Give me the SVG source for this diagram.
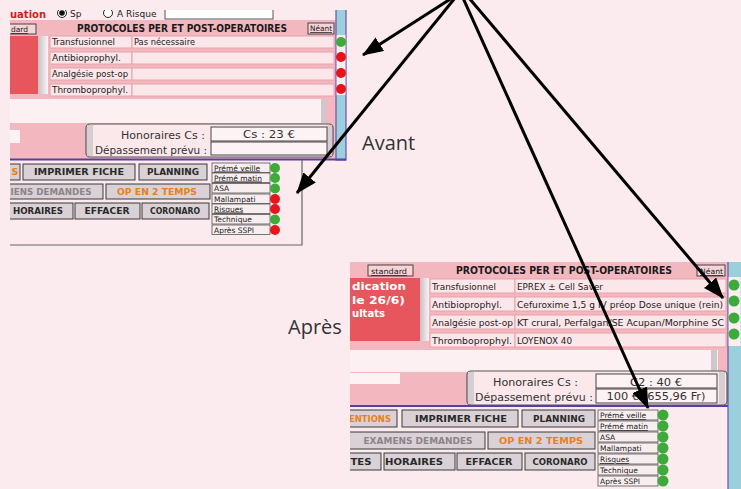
<svg xmlns="http://www.w3.org/2000/svg" width="741" height="489" viewBox="0 0 741 489">
  <defs>
    <style>
      .ui { font-family: "DejaVu Sans", "Liberation Sans", sans-serif; }
      .lbl { font-family: "DejaVu Sans", sans-serif; font-size: 8.5px; fill: #222; }
      .val { font-family: "DejaVu Sans", sans-serif; font-size: 9px; fill: #222; }
      .title { font-family: "DejaVu Sans", sans-serif; font-weight: bold; font-size: 10px; fill: #1a1a1a; }
      .btn rect { fill: #d9d1d5; stroke: #3a3a3a; stroke-width: 1; }
      .btn text { font-family: "DejaVu Sans", sans-serif; font-weight: bold; font-size: 9.5px; fill: #2a2a2a; text-anchor: middle; }
      .orange { fill: #e8801c !important; }
      .grey { fill: #8a8488 !important; }
      .panel { fill: #f3b8bf; }
      .red { fill: #e8565d; }
      .cell { fill: #fbe6e9; stroke: #eaa2aa; stroke-width: 1; }
      .field { fill: #fdf2f4; stroke: #444; stroke-width: 1; }
      .hon { font-family: "DejaVu Sans", sans-serif; font-size: 11px; fill: #333; }
      .chk rect { fill: #f8eef0; stroke: #555; stroke-width: 0.8; }
      .chk text { font-family: "DejaVu Sans", sans-serif; font-size: 7.5px; fill: #222; }
      .g { fill: #3eaa3a; }
      .r { fill: #e8141c; }
      .blue { fill: #9ccfdc; stroke: #6a52b0; stroke-width: 1.2; }
      .big { font-family: "Open Sans", "DejaVu Sans", sans-serif; font-size: 20px; fill: #333; }
      .arrow { stroke: #000; stroke-width: 3; fill: none; marker-end: url(#head); }
      .smallbtn rect { fill: #f7d4d8; stroke: #444; stroke-width: 1; }
      .smallbtn text { font-family: "DejaVu Sans", sans-serif; font-size: 7.5px; fill: #222; text-decoration: underline; }
    </style>
    <linearGradient id="scroll" x1="0" y1="0" x2="1" y2="0">
      <stop offset="0" stop-color="#c8c0c4"/>
      <stop offset="1" stop-color="#fbf4f6"/>
    </linearGradient>
    <marker id="head" markerUnits="userSpaceOnUse" markerWidth="21" markerHeight="16" refX="20" refY="8" orient="auto">
      <path d="M0,0 L21,8 L0,16 z" fill="#000"/>
    </marker>
    <clipPath id="clipA"><rect x="10" y="10" width="337" height="236"/></clipPath>
    <clipPath id="clipB"><rect x="350" y="262" width="391" height="227"/></clipPath>
  </defs>

  <rect x="0" y="0" width="741" height="489" fill="#fcebee"/>

  <!-- Screen before the change -->
  <g id="avant" clip-path="url(#clipA)">
    <text x="10" y="18" class="ui" font-size="10" font-weight="bold" fill="#d42020">uation</text>
    <circle cx="62" cy="13" r="4.5" fill="#fff" stroke="#222" stroke-width="1"/>
    <circle cx="62" cy="13" r="2.8" fill="#111"/>
    <text x="70" y="17" class="ui" font-size="9" fill="#222">Sp</text>
    <circle cx="108" cy="13" r="4.5" fill="#fff" stroke="#222" stroke-width="1"/>
    <text x="117" y="17" class="ui" font-size="9" fill="#222">A Risque</text>
    <rect x="165" y="8" width="108" height="11" fill="#fff" stroke="#555"/>

    <rect x="10" y="20" width="326" height="139" class="panel"/>
    <g class="smallbtn"><rect x="4" y="24" width="32" height="10"/><text x="11" y="32">dard</text></g>
    <text x="182" y="32" class="title" text-anchor="middle" textLength="210" lengthAdjust="spacingAndGlyphs">PROTOCOLES PER ET POST-OPERATOIRES</text>
    <g class="smallbtn"><rect x="308" y="23" width="26" height="11"/><text x="310" y="31" textLength="22" lengthAdjust="spacingAndGlyphs">Néant</text></g>

    <rect x="10" y="36" width="28" height="58" class="red"/>
    <rect x="38" y="36" width="10" height="58" fill="url(#scroll)"/>
    <rect x="50" y="36" width="82" height="12" class="cell"/><rect x="132" y="36" width="202" height="12" class="cell"/>
    <rect x="50" y="52" width="82" height="12" class="cell"/><rect x="132" y="52" width="202" height="12" class="cell"/>
    <rect x="50" y="68" width="82" height="12" class="cell"/><rect x="132" y="68" width="202" height="12" class="cell"/>
    <rect x="50" y="84" width="82" height="12" class="cell"/><rect x="132" y="84" width="202" height="12" class="cell"/>
    <text x="52" y="45" class="lbl" textLength="63" lengthAdjust="spacingAndGlyphs">Transfusionnel</text>
    <text x="134" y="45" class="lbl" textLength="61" lengthAdjust="spacingAndGlyphs">Pas nécessaire</text>
    <text x="52" y="61" class="lbl" textLength="69" lengthAdjust="spacingAndGlyphs">Antibioprophyl.</text>
    <text x="52" y="77" class="lbl" textLength="76" lengthAdjust="spacingAndGlyphs">Analgésie post-op</text>
    <text x="52" y="93" class="lbl" textLength="76" lengthAdjust="spacingAndGlyphs">Thromboprophyl.</text>

    <rect x="336" y="8" width="10" height="152" class="blue"/>
    <rect x="336.6" y="35" width="8.8" height="60" fill="#fbeef0"/>
    <circle cx="341" cy="42" r="5" class="g"/>
    <circle cx="341" cy="57" r="5" class="r"/>
    <circle cx="341" cy="73" r="5" class="r"/>
    <circle cx="341" cy="89" r="5" class="r"/>

    <rect x="10" y="99" width="316" height="24" fill="#fdf0f2"/>
    <rect x="321" y="99" width="5" height="24" fill="#cfc8cb"/>
    <rect x="10" y="130" width="10" height="13" fill="#fdf3f5"/>

    <rect x="86" y="124" width="247" height="33" rx="4" fill="#fbe8eb" stroke="#555" stroke-width="1.2"/>
    <rect x="87" y="125" width="6" height="31" fill="#d6ced2"/>
    <rect x="327" y="125" width="5" height="31" fill="#d6ced2"/>
    <text x="205" y="139" class="hon" text-anchor="end" textLength="84" lengthAdjust="spacingAndGlyphs">Honoraires Cs :</text>
    <text x="207" y="154" class="hon" text-anchor="end" textLength="112" lengthAdjust="spacingAndGlyphs">Dépassement prévu :</text>
    <rect x="211" y="127" width="116" height="14" class="field"/>
    <rect x="211" y="142" width="116" height="13" class="field"/>
    <text x="269" y="138" class="hon" text-anchor="middle" textLength="52" lengthAdjust="spacingAndGlyphs">Cs : 23 €</text>

    <line x1="10" y1="159.5" x2="346" y2="159.5" stroke="#5a3ea0" stroke-width="2"/>

    <g class="btn">
      <rect x="4" y="164" width="16" height="16"/><text x="15" y="175" class="orange">S</text>
      <rect x="23" y="164" width="112" height="16"/><text x="79" y="175" textLength="90" lengthAdjust="spacingAndGlyphs">IMPRIMER FICHE</text>
      <rect x="139" y="164" width="68" height="16"/><text x="173" y="175" textLength="52" lengthAdjust="spacingAndGlyphs">PLANNING</text>
      <rect x="4" y="184" width="99" height="15"/><text x="51" y="195" class="grey" textLength="81" lengthAdjust="spacingAndGlyphs">IENS DEMANDES</text>
      <rect x="106" y="184" width="104" height="15"/><text x="157" y="195" class="orange" textLength="80" lengthAdjust="spacingAndGlyphs">OP EN 2 TEMPS</text>
      <rect x="4" y="203" width="69" height="16"/><text x="38" y="214" textLength="50" lengthAdjust="spacingAndGlyphs">HORAIRES</text>
      <rect x="75" y="203" width="65" height="16"/><text x="107" y="214" textLength="45" lengthAdjust="spacingAndGlyphs">EFFACER</text>
      <rect x="142" y="203" width="67" height="16"/><text x="175" y="214" textLength="50" lengthAdjust="spacingAndGlyphs">CORONARO</text>
    </g>

    <g class="chk">
      <rect x="212" y="163" width="58" height="9.5"/><text x="214" y="170.5" text-decoration="underline">Prémé veille</text>
      <rect x="212" y="173" width="58" height="9.5"/><text x="214" y="180.5" text-decoration="underline">Prémé matin</text>
      <rect x="212" y="183.5" width="58" height="9.5"/><text x="214" y="191">ASA</text>
      <rect x="212" y="194" width="58" height="9.5"/><text x="214" y="201.5">Mallampati</text>
      <rect x="212" y="204" width="58" height="9.5"/><text x="214" y="211.5" text-decoration="underline">Risques</text>
      <rect x="212" y="214.5" width="58" height="9.5"/><text x="214" y="222">Technique</text>
      <rect x="212" y="225" width="58" height="9.5"/><text x="214" y="232.5">Après SSPI</text>
    </g>
    <circle cx="275" cy="168" r="5" class="g"/>
    <circle cx="275" cy="178" r="5" class="g"/>
    <circle cx="275" cy="188.5" r="5" class="g"/>
    <circle cx="275" cy="199" r="5" class="r"/>
    <circle cx="275" cy="209" r="5" class="r"/>
    <circle cx="275" cy="219.5" r="5" class="g"/>
    <circle cx="275" cy="230" r="5" class="r"/>

    <path d="M302,160 V245 H10" fill="none" stroke="#666" stroke-width="1.2"/>
  </g>

  <!-- Screen after the change -->
  <g id="apres" clip-path="url(#clipB)">
    <rect x="350" y="262" width="378" height="144" class="panel"/>
    <g class="smallbtn"><rect x="368" y="265" width="45" height="11"/><text x="371" y="274" textLength="36" lengthAdjust="spacingAndGlyphs">standard</text></g>
    <text x="564" y="274" class="title" text-anchor="middle" textLength="216" lengthAdjust="spacingAndGlyphs">PROTOCOLES PER ET POST-OPERATOIRES</text>
    <g class="smallbtn"><rect x="697" y="265" width="28" height="11"/><text x="700" y="274" textLength="23" lengthAdjust="spacingAndGlyphs">Néant</text></g>

    <rect x="350" y="278" width="70" height="63" class="red"/>
    <g class="ui" font-size="10" font-weight="bold" fill="#fff">
      <text x="352" y="290" textLength="54" lengthAdjust="spacingAndGlyphs">dication</text>
      <text x="352" y="304" textLength="53" lengthAdjust="spacingAndGlyphs">le 26/6)</text>
      <text x="352" y="317" textLength="33" lengthAdjust="spacingAndGlyphs">ultats</text>
    </g>
    <rect x="420" y="278" width="9" height="63" fill="url(#scroll)"/>

    <rect x="430" y="279" width="85" height="14" class="cell"/><rect x="515" y="279" width="211" height="14" class="cell"/>
    <rect x="430" y="297" width="85" height="14" class="cell"/><rect x="515" y="297" width="211" height="14" class="cell"/>
    <rect x="430" y="315" width="85" height="14" class="cell"/><rect x="515" y="315" width="211" height="14" class="cell"/>
    <rect x="430" y="333" width="85" height="14" class="cell"/><rect x="515" y="333" width="211" height="14" class="cell"/>
    <text x="432" y="290" class="val" textLength="64" lengthAdjust="spacingAndGlyphs">Transfusionnel</text>
    <text x="517" y="290" class="val" textLength="86" lengthAdjust="spacingAndGlyphs">EPREX ± Cell Saver</text>
    <text x="432" y="308" class="val" textLength="70" lengthAdjust="spacingAndGlyphs">Antibioprophyl.</text>
    <text x="517" y="308" class="val" textLength="206" lengthAdjust="spacingAndGlyphs">Cefuroxime 1,5 g IV préop Dose unique (rein)</text>
    <text x="432" y="326" class="val" textLength="81" lengthAdjust="spacingAndGlyphs">Analgésie post-op</text>
    <text x="517" y="326" class="val" textLength="207" lengthAdjust="spacingAndGlyphs">KT crural, Perfalgan/SE Acupan/Morphine SC</text>
    <text x="432" y="344" class="val" textLength="80" lengthAdjust="spacingAndGlyphs">Thromboprophyl.</text>
    <text x="517" y="344" class="val" textLength="55" lengthAdjust="spacingAndGlyphs">LOYENOX 40</text>

    <rect x="728" y="258" width="15" height="235" class="blue"/>
    <rect x="728.6" y="277" width="12" height="69" fill="#fbeef0"/>
    <circle cx="734" cy="285" r="5.5" class="g"/>
    <circle cx="734" cy="301" r="5.5" class="g"/>
    <circle cx="734" cy="318" r="5.5" class="g"/>
    <circle cx="734" cy="334" r="5.5" class="g"/>

    <rect x="350" y="350" width="368" height="22" fill="#fdf0f2"/>
    <rect x="711" y="350" width="6" height="22" fill="#cfc8cb"/>
    <rect x="350" y="373" width="50" height="11" fill="#fdf3f5"/>

    <rect x="467" y="371" width="260" height="34" rx="4" fill="#fbe8eb" stroke="#555" stroke-width="1.2"/>
    <rect x="468" y="372" width="6" height="32" fill="#d6ced2"/>
    <rect x="719" y="372" width="6" height="32" fill="#d6ced2"/>
    <text x="578" y="386" class="hon" text-anchor="end" textLength="85" lengthAdjust="spacingAndGlyphs">Honoraires Cs :</text>
    <text x="593" y="401" class="hon" text-anchor="end" textLength="118" lengthAdjust="spacingAndGlyphs">Dépassement prévu :</text>
    <rect x="596" y="374" width="121" height="14" class="field"/>
    <rect x="596" y="389" width="121" height="14" class="field"/>
    <text x="656" y="386" class="hon" text-anchor="middle" textLength="52" lengthAdjust="spacingAndGlyphs">C2 : 40 €</text>
    <text x="656" y="400" class="hon" text-anchor="middle" textLength="99" lengthAdjust="spacingAndGlyphs">100 € (655,96 Fr)</text>

    <line x1="350" y1="406" x2="728" y2="406" stroke="#5a3ea0" stroke-width="2"/>

    <g class="btn">
      <rect x="340" y="410" width="57" height="17"/><text x="370" y="422" class="orange" textLength="42" lengthAdjust="spacingAndGlyphs">ENTIONS</text>
      <rect x="402" y="410" width="116" height="17"/><text x="461" y="422" textLength="92" lengthAdjust="spacingAndGlyphs">IMPRIMER FICHE</text>
      <rect x="522" y="410" width="73" height="17"/><text x="559" y="422" textLength="52" lengthAdjust="spacingAndGlyphs">PLANNING</text>
      <rect x="340" y="432" width="145" height="17"/><text x="418" y="444" class="grey" textLength="109" lengthAdjust="spacingAndGlyphs">EXAMENS DEMANDES</text>
      <rect x="488" y="432" width="107" height="17"/><text x="541" y="444" class="orange" textLength="84" lengthAdjust="spacingAndGlyphs">OP EN 2 TEMPS</text>
      <rect x="340" y="453" width="41" height="17"/><text x="361" y="465" textLength="21" lengthAdjust="spacingAndGlyphs">TES</text>
      <rect x="384" y="453" width="71" height="17"/><text x="414" y="465" textLength="58" lengthAdjust="spacingAndGlyphs">HORAIRES</text>
      <rect x="457" y="453" width="65" height="17"/><text x="489" y="465" textLength="47" lengthAdjust="spacingAndGlyphs">EFFACER</text>
      <rect x="525" y="453" width="70" height="17"/><text x="560" y="465" textLength="55" lengthAdjust="spacingAndGlyphs">CORONARO</text>
    </g>

    <g class="chk">
      <rect x="598" y="410" width="60" height="10"/><text x="600" y="418" text-decoration="underline">Prémé veille</text>
      <rect x="598" y="421" width="60" height="10"/><text x="600" y="429" text-decoration="underline">Prémé matin</text>
      <rect x="598" y="432" width="60" height="10"/><text x="600" y="440">ASA</text>
      <rect x="598" y="443" width="60" height="10"/><text x="600" y="451">Mallampati</text>
      <rect x="598" y="454" width="60" height="10"/><text x="600" y="462" text-decoration="underline">Risques</text>
      <rect x="598" y="465" width="60" height="10"/><text x="600" y="473">Technique</text>
      <rect x="598" y="476" width="60" height="10"/><text x="600" y="484">Après SSPI</text>
    </g>
    <circle cx="663" cy="415" r="5.5" class="g"/>
    <circle cx="663" cy="426" r="5.5" class="g"/>
    <circle cx="663" cy="437" r="5.5" class="g"/>
    <circle cx="663" cy="448" r="5.5" class="g"/>
    <circle cx="663" cy="459" r="5.5" class="g"/>
    <circle cx="663" cy="470" r="5.5" class="g"/>
    <circle cx="663" cy="481" r="5.5" class="g"/>
  </g>

  <g id="label-avant"><text x="362" y="150" class="big">Avant</text></g>
  <g id="label-apres"><text x="288" y="334" class="big">Après</text></g>

  <!-- Pointers fanning out from above the top edge -->
  <g id="connectors">
    <line class="arrow" x1="452" y1="-2" x2="363" y2="55"/>
    <line class="arrow" x1="455" y1="-2" x2="297" y2="193"/>
    <line class="arrow" x1="463" y1="-2" x2="648" y2="408"/>
    <line class="arrow" x1="469" y1="-2" x2="723" y2="298"/>
  </g>
</svg>
